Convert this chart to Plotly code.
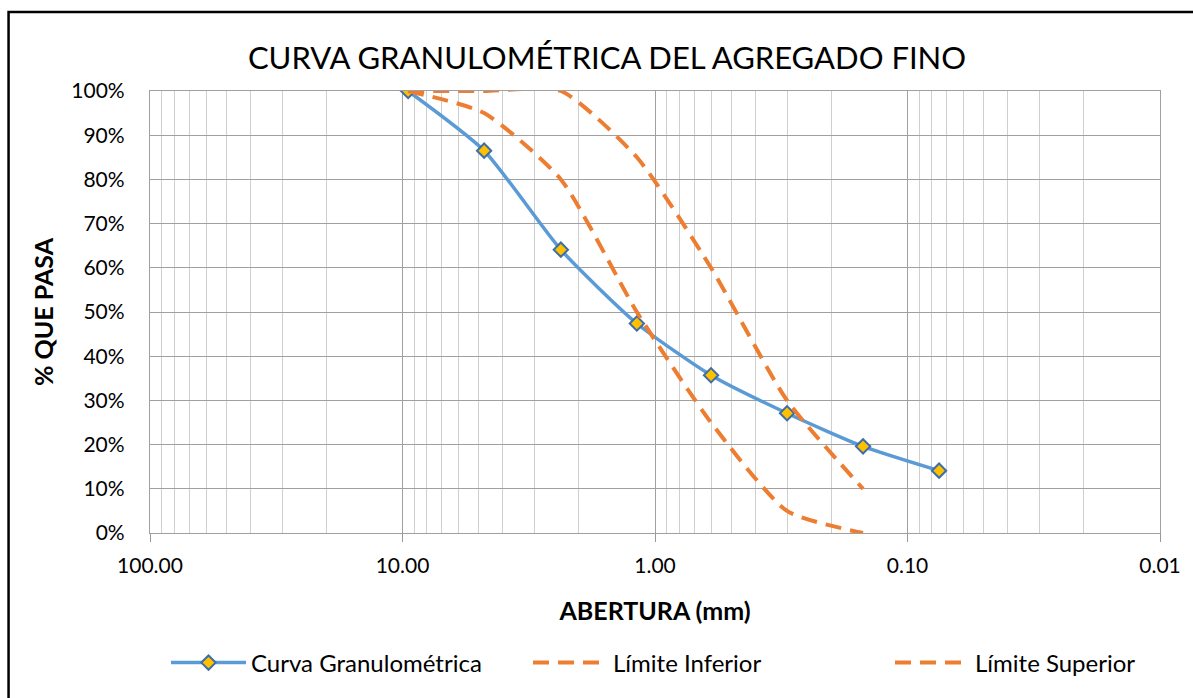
import plotly.graph_objects as go

abertura = [9.5, 4.75, 2.36, 1.18, 0.6, 0.3, 0.15, 0.075]
curva = [100, 86.5, 64.1, 47.4, 35.7, 27.1, 19.6, 14.1]

lim_abertura = [9.5, 4.75, 2.36, 1.18, 0.6, 0.3, 0.15]
lim_inferior = [100, 95, 80, 50, 25, 5, 0]
lim_superior = [100, 100, 100, 85, 60, 30, 10]

x_tickvals = [100, 10, 1, 0.1, 0.01]
x_ticktext = ["100.00", "10.00", "1.00", "0.10", "0.01"]
y_tickvals = [0, 10, 20, 30, 40, 50, 60, 70, 80, 90, 100]
y_ticktext = [f"{v}%" for v in y_tickvals]

FONT = "Lato"
W, H = 1193, 698
L, R, T, B = 150, 1164, 91, 533
DASH = "16px,9px"

fig = go.Figure()
fig.add_trace(go.Scatter(
    x=abertura, y=curva, name="Curva Granulométrica", legendwidth=272,
    mode="lines+markers", line=dict(color="#5B9BD5", width=3.5, shape="spline", smoothing=0.6),
    marker=dict(symbol="diamond", size=11, color="#FFC000", line=dict(color="#3D6EA8", width=2)),
))
fig.add_trace(go.Scatter(
    x=lim_abertura, y=lim_inferior, name="Límite Inferior", legendwidth=272,
    mode="lines", line=dict(color="#ED7D31", width=4, dash=DASH, shape="spline", smoothing=0.6),
))
fig.add_trace(go.Scatter(
    x=lim_abertura, y=lim_superior, name="Límite Superior", legendwidth=190,
    mode="lines", line=dict(color="#ED7D31", width=4, dash=DASH, shape="spline", smoothing=0.6),
))

fig.update_layout(
    width=W, height=H,
    margin=dict(l=L, r=W - R, t=T, b=H - B),
    paper_bgcolor="white", plot_bgcolor="white",
    font=dict(family=FONT, color="black", size=21),
    title=dict(text="CURVA GRANULOMÉTRICA DEL AGREGADO FINO", x=607 / W, xanchor="center",
               xref="container", y=1 - 58 / H, yanchor="middle", yref="container",
               font=dict(size=31, family=FONT)),
    showlegend=True,
    legend=dict(orientation="h", xref="container", x=166 / W, xanchor="left",
                yref="container", y=1 - 663 / H, yanchor="middle", bgcolor="rgba(0,0,0,0)",
                font=dict(size=24), itemwidth=75, tracegroupgap=0,
                entrywidthmode="pixels"),
    shapes=[dict(type="rect", xref="paper", yref="paper",
                 x0=-(L - 8) / (R - L), x1=(1220 - L) / (R - L),
                 y0=-(740 - B) / (B - T), y1=1 + (T - 12) / (B - T),
                 line=dict(color="black", width=2.5), layer="below")],
)

fig.update_xaxes(
    type="log", range=[2, -2], autorange=False,
    tickvals=x_tickvals, ticktext=x_ticktext,
    ticks="outside", ticklen=8, tickcolor="#999999", ticklabelstandoff=6,
    showgrid=True, gridcolor="#A0A0A0", gridwidth=1.3,
    minor=dict(showgrid=True, dtick="D1", gridcolor="#CFCFCF", gridwidth=1.3, ticks=""),
    showline=True, linecolor="#A0A0A0", linewidth=1.3, mirror=True,
    tickfont=dict(size=21), zeroline=False,
    title=dict(text="<b>ABERTURA (mm)</b>", font=dict(size=25), standoff=26),
)
fig.update_yaxes(
    range=[0, 100], tickvals=y_tickvals, ticktext=y_ticktext,
    ticks="", ticklabelstandoff=20,
    showgrid=True, gridcolor="#A0A0A0", gridwidth=1.3,
    showline=True, linecolor="#A0A0A0", linewidth=1.3, mirror=True,
    tickfont=dict(size=21), zeroline=False,
    title=dict(text="<b>% QUE PASA</b>", font=dict(size=25), standoff=10),
)

fig.write_html("out.html", config={"displayModeBar": False},
               post_script="document.body.style.margin='0';window.dispatchEvent(new Event('resize'));")
